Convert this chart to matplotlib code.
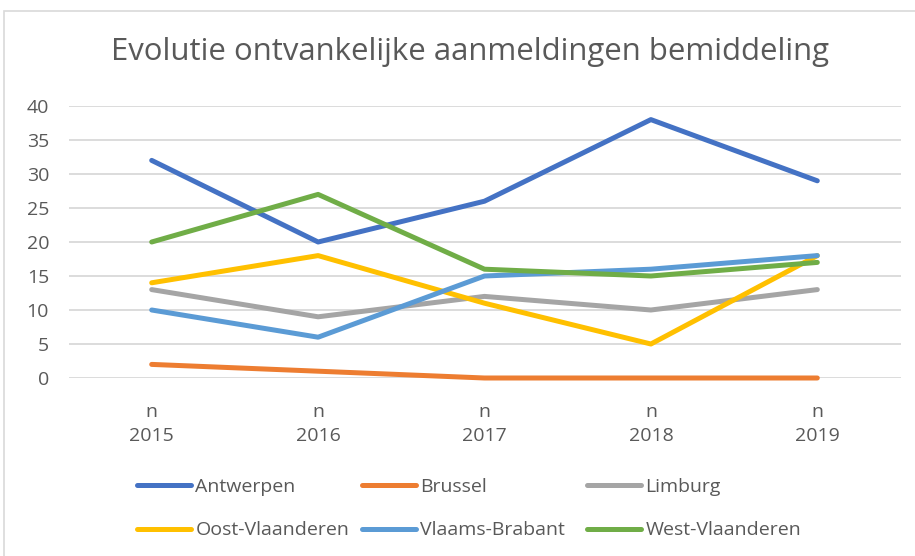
import matplotlib
matplotlib.use("Agg")
import matplotlib.pyplot as plt
from matplotlib.patches import Rectangle

plt.rcParams['font.family'] = ['Open Sans', 'DejaVu Sans']

title = "Evolutie ontvankelijke aanmeldingen bemiddeling"
categories = ["n\n2015", "n\n2016", "n\n2017", "n\n2018", "n\n2019"]
series_names = ["Antwerpen", "Brussel", "Limburg", "Oost-Vlaanderen",
                "Vlaams-Brabant", "West-Vlaanderen"]
antwerpen = [32, 20, 26, 38, 29]
brussel = [2, 1, 0, 0, 0]
limburg = [13, 9, 12, 10, 13]
oost_vlaanderen = [14, 18, 11, 5, 18]
vlaams_brabant = [10, 6, 15, 16, 18]
west_vlaanderen = [20, 27, 16, 15, 17]
y_ticks = [0, 5, 10, 15, 20, 25, 30, 35, 40]

series_values = [antwerpen, brussel, limburg, oost_vlaanderen,
                 vlaams_brabant, west_vlaanderen]
colors = ["#4472C4", "#ED7D31", "#A5A5A5", "#FFC000", "#5B9BD5", "#70AD47"]

W, H = 915, 556
fig = plt.figure(figsize=(W / 100, H / 100), dpi=100)
fig.patch.set_facecolor("white")

# outer chart frame
fig.patches.append(Rectangle((4 / W, -0.01), 1.0, 1 - 11 / H + 0.01,
                             transform=fig.transFigure, fill=False,
                             edgecolor="#D9D9D9", linewidth=1.2))

ax_left, ax_right = 68.5 / W, 900.5 / W
ax_bottom, ax_top = (H - 378) / H, (H - 106) / H
ax = fig.add_axes([ax_left, ax_bottom, ax_right - ax_left, ax_top - ax_bottom])

LW = 3.6
x = list(range(len(categories)))
handles = []
for name, vals, c in zip(series_names, series_values, colors):
    ln, = ax.plot(x, vals, color=c, linewidth=LW, solid_capstyle="round",
                  solid_joinstyle="round", label=name, clip_on=False, zorder=3)
    handles.append(ln)

ax.set_xlim(-0.5, len(categories) - 0.5)
ax.set_ylim(0, 40)
ax.set_yticks(y_ticks)
ax.set_yticklabels([str(v) for v in y_ticks])
ax.set_xticks(x)
ax.set_xticklabels(categories, linespacing=1.45)
for s in ax.spines.values():
    s.set_visible(False)
ax.grid(axis="y", color="#D9D9D9", linewidth=1.3, zorder=0)
ax.tick_params(axis="both", length=0, colors="#595959", labelsize=14)
ax.tick_params(axis="y", pad=14)
ax.tick_params(axis="x", pad=18)

fig.text(470 / W, 1 - 52 / H, title, ha="center", va="center",
         fontsize=22.4, color="#595959")

# legend: three columns of two rows each
col_x = [137, 362, 587]
col_items = [[0, 3], [1, 4], [2, 5]]
for cx, items in zip(col_x, col_items):
    leg = fig.legend([handles[i] for i in items], [series_names[i] for i in items],
                     ncol=1, loc="center left",
                     bbox_to_anchor=(cx / W, 1 - 508.5 / H),
                     borderaxespad=0, borderpad=0,
                     frameon=False, fontsize=14, labelcolor="#595959",
                     handlelength=2.8, handletextpad=0.2,
                     labelspacing=1.32)
    for lh in leg.get_lines():
        lh.set_linewidth(LW)
        lh.set_solid_capstyle("round")

fig.savefig("out.png", dpi=100, facecolor="white")
